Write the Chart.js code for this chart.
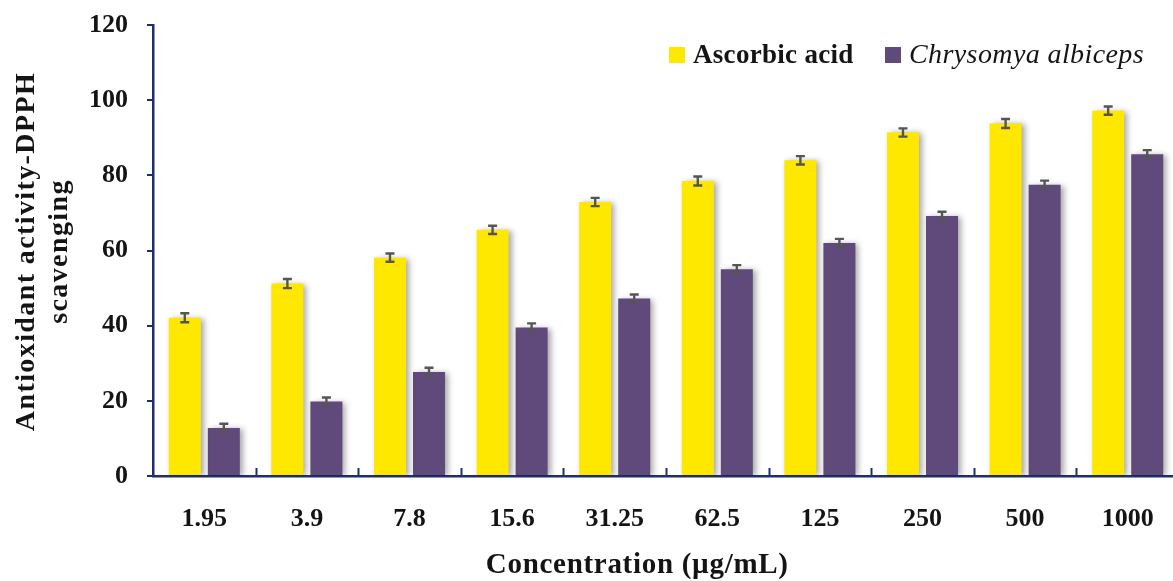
<!DOCTYPE html>
<html>
<head>
<meta charset="utf-8">
<title>Antioxidant activity – DPPH scavenging</title>
<script src="https://cdn.jsdelivr.net/npm/chart.js@4.4.1/dist/chart.umd.min.js"></script>
<style>
  html, body { margin: 0; padding: 0; background: #ffffff; overflow: hidden; }
  #wrap { position: relative; width: 1185px; height: 581px; }
</style>
</head>
<body>
<div id="wrap"><canvas id="chart" width="1185" height="581"></canvas></div>
<script>
// Concentrations tested (µg/mL)
const concentrations = ['1.95', '3.9', '7.8', '15.6', '31.25', '62.5', '125', '250', '500', '1000'];

// DPPH scavenging (%) – ascorbic acid standard
const ascorbicAcid    = [42.1, 51.2, 58.1, 65.5, 72.9, 78.5, 84.0, 91.4, 93.8, 97.2];
const ascorbicAcidSd  = [1.2, 1.2, 1.1, 1.1, 1.1, 1.2, 1.1, 1.1, 1.2, 1.1];

// DPPH scavenging (%) – Chrysomya albiceps extract
const chrysomya       = [12.8, 19.8, 27.7, 39.5, 47.2, 55.0, 62.0, 69.2, 77.5, 85.6];
const chrysomyaSd     = [1.1, 1.1, 1.1, 1.1, 1.1, 1.1, 1.1, 1.1, 1.1, 1.1];

// Value axis ticks
const yTicks = [0, 20, 40, 60, 80, 100, 120];

const NAVY = '#1f2f6e';
const TEXT = '#141414';
const SERIF = '"Liberation Serif", "Times New Roman", serif';

// Soft drop shadow under the bars
const barShadow = {
  id: 'barShadow',
  beforeDatasetDraw(chart) {
    const ctx = chart.ctx;
    ctx.save();
    ctx.shadowColor = 'rgba(0,0,0,0.35)';
    ctx.shadowBlur = 6;
    ctx.shadowOffsetX = 3;
    ctx.shadowOffsetY = 1;
  },
  afterDatasetDraw(chart) {
    chart.ctx.restore();
  }
};

// ± SD whiskers on top of each bar
const errorBars = {
  id: 'errorBars',
  afterDatasetsDraw(chart) {
    const ctx = chart.ctx;
    const yScale = chart.scales.y;
    ctx.save();
    ctx.strokeStyle = '#555555';
    ctx.lineWidth = 2.4;
    chart.data.datasets.forEach((ds, di) => {
      const meta = chart.getDatasetMeta(di);
      meta.data.forEach((bar, i) => {
        const v = ds.data[i], e = ds.sd[i];
        const yTop = yScale.getPixelForValue(v + e);
        const yBot = yScale.getPixelForValue(v - e);
        const x = bar.x, cap = 4.5;
        ctx.beginPath();
        ctx.moveTo(x, yTop); ctx.lineTo(x, yBot);
        ctx.moveTo(x - cap, yTop); ctx.lineTo(x + cap, yTop);
        ctx.moveTo(x - cap, yBot); ctx.lineTo(x + cap, yBot);
        ctx.stroke();
      });
    });
    ctx.restore();
  }
};

// Short inward tick marks between categories on the x axis
const categoryTicks = {
  id: 'categoryTicks',
  afterDraw(chart) {
    const ctx = chart.ctx;
    const xs = chart.scales.x;
    const n = chart.data.labels.length;
    const yb = chart.chartArea.bottom;
    ctx.save();
    ctx.strokeStyle = NAVY;
    ctx.lineWidth = 2;
    for (let i = 1; i <= n; i++) {
      const x = Math.round(xs.getPixelForDecimal(i / n)) + 0.5;
      ctx.beginPath();
      ctx.moveTo(x, yb);
      ctx.lineTo(x, yb - 8);
      ctx.stroke();
    }
    ctx.restore();
  }
};

// Axis titles and legend (mixed upright / italic entries)
const titlesAndLegend = {
  id: 'titlesAndLegend',
  afterDraw(chart) {
    const ctx = chart.ctx;
    const area = chart.chartArea;
    const midY = (area.top + area.bottom) / 2;
    ctx.save();
    ctx.fillStyle = TEXT;

    // Y-axis title, two rotated lines
    ctx.font = 'bold 28px ' + SERIF;
    ctx.letterSpacing = '1.4px';
    ctx.textAlign = 'center';
    ctx.textBaseline = 'alphabetic';
    [['Antioxidant activity-DPPH', 34], ['scavenging', 67]].forEach(([txt, bx]) => {
      ctx.save();
      ctx.translate(bx, midY + 1);
      ctx.rotate(-Math.PI / 2);
      ctx.fillText(txt, 0, 0);
      ctx.restore();
    });

    // X-axis title
    ctx.font = 'bold 29px ' + SERIF;
    ctx.letterSpacing = '0.7px';
    ctx.fillText('Concentration (\u00b5g/mL)', area.left + (area.right - area.left) * 0.472, 573);

    // Legend
    ctx.textAlign = 'left';
    const legendY = area.top + 22;   // square top
    const entries = [
      { x: area.right - 510, font: 'bold 27px ' + SERIF, spacing: '0.3px' },
      { x: area.right - 294, font: 'italic 28px ' + SERIF, spacing: '0.4px' }
    ];
    chart.data.datasets.forEach((ds, i) => {
      const e = entries[i];
      ctx.fillStyle = ds.backgroundColor;
      ctx.fillRect(e.x, legendY, 16, 16);
      ctx.fillStyle = TEXT;
      ctx.font = e.font;
      ctx.letterSpacing = e.spacing;
      ctx.fillText(ds.label, e.x + 24, legendY + 16);
    });
    ctx.restore();
  }
};

const tickFont = { family: SERIF, size: 26, weight: 'bold' };

new Chart(document.getElementById('chart'), {
  type: 'bar',
  data: {
    labels: concentrations,
    datasets: [
      {
        label: 'Ascorbic acid',
        data: ascorbicAcid,
        sd: ascorbicAcidSd,
        backgroundColor: '#ffe800',
        borderWidth: 0,
        barPercentage: 0.82,
        categoryPercentage: 0.761
      },
      {
        label: 'Chrysomya albiceps',
        data: chrysomya,
        sd: chrysomyaSd,
        backgroundColor: '#604a7b',
        borderWidth: 0,
        barPercentage: 0.82,
        categoryPercentage: 0.761
      }
    ]
  },
  options: {
    responsive: false,
    animation: false,
    devicePixelRatio: 1,
    layout: { padding: { top: 25, right: 6, bottom: 0, left: 0 } },
    plugins: {
      legend: { display: false },
      tooltip: { enabled: false }
    },
    scales: {
      x: {
        offset: true,
        afterFit(scale) { scale.height = 105; },
        grid: { display: false },
        border: { display: true, color: NAVY, width: 2.5 },
        ticks: { color: TEXT, font: tickFont, padding: 20, maxRotation: 0, autoSkip: false }
      },
      y: {
        min: 0,
        max: 120,
        afterBuildTicks(scale) { scale.ticks = yTicks.map(v => ({ value: v })); },
        afterFit(scale) {
          scale.width = 153;
          scale.paddingTop = 0;
          scale.paddingBottom = 0;
        },
        grid: { drawOnChartArea: false, drawTicks: true, tickLength: 6, color: NAVY, lineWidth: 2 },
        border: { display: true, color: NAVY, width: 2.5 },
        ticks: { color: TEXT, font: tickFont, padding: 19 }
      }
    }
  },
  plugins: [barShadow, errorBars, categoryTicks, titlesAndLegend]
});
</script>
</body>
</html>
